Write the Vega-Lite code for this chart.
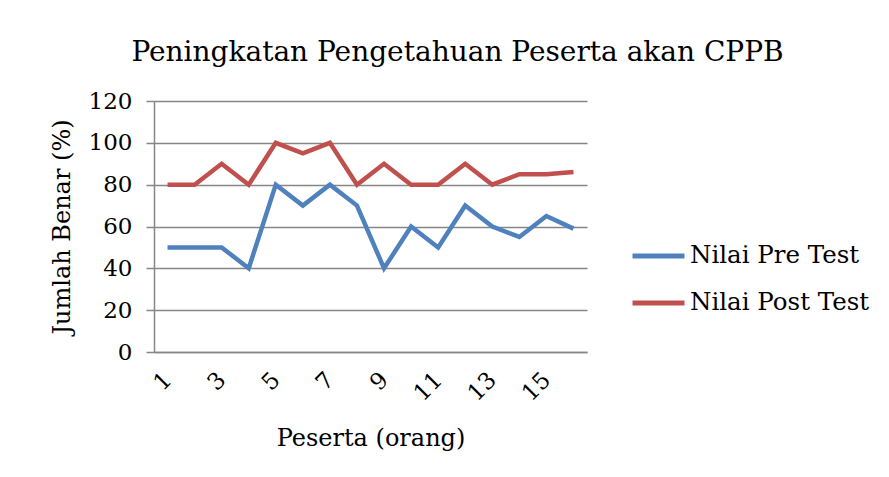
{
  "$schema": "https://vega.github.io/schema/vega-lite/v6.json",
  "width": 433,
  "height": 251,
  "autosize": "none",
  "padding": {"left": 154, "top": 101, "right": 302, "bottom": 125},
  "background": "white",
  "title": {
    "text": "Peningkatan Pengetahuan Peserta akan CPPB",
    "font": "DejaVu Serif",
    "fontSize": 28,
    "fontWeight": "normal",
    "color": "#000000",
    "anchor": "middle",
    "frame": "group",
    "dx": 87,
    "offset": 23
  },
  "data": {
    "values": [
      {"peserta": 1, "seri": "Nilai Pre Test", "nilai": 50},
      {"peserta": 2, "seri": "Nilai Pre Test", "nilai": 50},
      {"peserta": 3, "seri": "Nilai Pre Test", "nilai": 50},
      {"peserta": 4, "seri": "Nilai Pre Test", "nilai": 40},
      {"peserta": 5, "seri": "Nilai Pre Test", "nilai": 80},
      {"peserta": 6, "seri": "Nilai Pre Test", "nilai": 70},
      {"peserta": 7, "seri": "Nilai Pre Test", "nilai": 80},
      {"peserta": 8, "seri": "Nilai Pre Test", "nilai": 70},
      {"peserta": 9, "seri": "Nilai Pre Test", "nilai": 40},
      {"peserta": 10, "seri": "Nilai Pre Test", "nilai": 60},
      {"peserta": 11, "seri": "Nilai Pre Test", "nilai": 50},
      {"peserta": 12, "seri": "Nilai Pre Test", "nilai": 70},
      {"peserta": 13, "seri": "Nilai Pre Test", "nilai": 60},
      {"peserta": 14, "seri": "Nilai Pre Test", "nilai": 55},
      {"peserta": 15, "seri": "Nilai Pre Test", "nilai": 65},
      {"peserta": 16, "seri": "Nilai Pre Test", "nilai": 59},
      {"peserta": 1, "seri": "Nilai Post Test", "nilai": 80},
      {"peserta": 2, "seri": "Nilai Post Test", "nilai": 80},
      {"peserta": 3, "seri": "Nilai Post Test", "nilai": 90},
      {"peserta": 4, "seri": "Nilai Post Test", "nilai": 80},
      {"peserta": 5, "seri": "Nilai Post Test", "nilai": 100},
      {"peserta": 6, "seri": "Nilai Post Test", "nilai": 95},
      {"peserta": 7, "seri": "Nilai Post Test", "nilai": 100},
      {"peserta": 8, "seri": "Nilai Post Test", "nilai": 80},
      {"peserta": 9, "seri": "Nilai Post Test", "nilai": 90},
      {"peserta": 10, "seri": "Nilai Post Test", "nilai": 80},
      {"peserta": 11, "seri": "Nilai Post Test", "nilai": 80},
      {"peserta": 12, "seri": "Nilai Post Test", "nilai": 90},
      {"peserta": 13, "seri": "Nilai Post Test", "nilai": 80},
      {"peserta": 14, "seri": "Nilai Post Test", "nilai": 85},
      {"peserta": 15, "seri": "Nilai Post Test", "nilai": 85},
      {"peserta": 16, "seri": "Nilai Post Test", "nilai": 86}
    ]
  },
  "mark": {"type": "line", "strokeWidth": 4.5, "strokeJoin": "miter", "strokeCap": "butt"},
  "encoding": {
    "x": {
      "field": "peserta",
      "type": "ordinal",
      "sort": "ascending",
      "scale": {"paddingInner": 0, "paddingOuter": 0.5},
      "axis": {
        "title": "Peserta (orang)",
        "titleFont": "DejaVu Serif",
        "titleFontSize": 24,
        "titleFontWeight": "normal",
        "titleColor": "#000000",
        "titlePadding": 21,
        "labelFont": "DejaVu Serif",
        "labelFontSize": 23,
        "labelColor": "#000000",
        "labelAngle": -45,
        "labelAlign": "right",
        "labelBaseline": "middle",
        "labelPadding": 24,
        "labelExpr": "datum.value % 2 == 1 ? datum.label : ''",
        "ticks": false,
        "domainColor": "#868686",
        "domainWidth": 1.5,
        "grid": false
      }
    },
    "y": {
      "field": "nilai",
      "type": "quantitative",
      "scale": {"domain": [0, 120], "nice": false},
      "axis": {
        "values": [0, 20, 40, 60, 80, 100, 120],
        "title": "Jumlah Benar (%)",
        "titleFont": "DejaVu Serif",
        "titleFontSize": 24,
        "titleFontWeight": "normal",
        "titleColor": "#000000",
        "titlePadding": 14,
        "labelFont": "DejaVu Serif",
        "labelFontSize": 23,
        "labelColor": "#000000",
        "labelPadding": 14,
        "tickSize": 8,
        "tickColor": "#868686",
        "tickWidth": 1.5,
        "domainColor": "#868686",
        "domainWidth": 1.5,
        "gridColor": "#868686",
        "gridWidth": 1.5
      }
    },
    "color": {
      "field": "seri",
      "type": "nominal",
      "scale": {"domain": ["Nilai Pre Test", "Nilai Post Test"], "range": ["#4F81BD", "#C0504D"]},
      "legend": {
        "title": null,
        "orient": "none",
        "legendX": 476,
        "legendY": 144,
        "symbolType": "stroke",
        "symbolSize": 2704,
        "symbolStrokeWidth": 5,
        "clipHeight": 22,
        "rowPadding": 22,
        "labelFont": "DejaVu Serif",
        "labelFontSize": 24.5,
        "labelLimit": 400,
        "labelColor": "#000000",
        "labelOffset": 3
      }
    }
  },
  "config": {"view": {"stroke": null}}
}
